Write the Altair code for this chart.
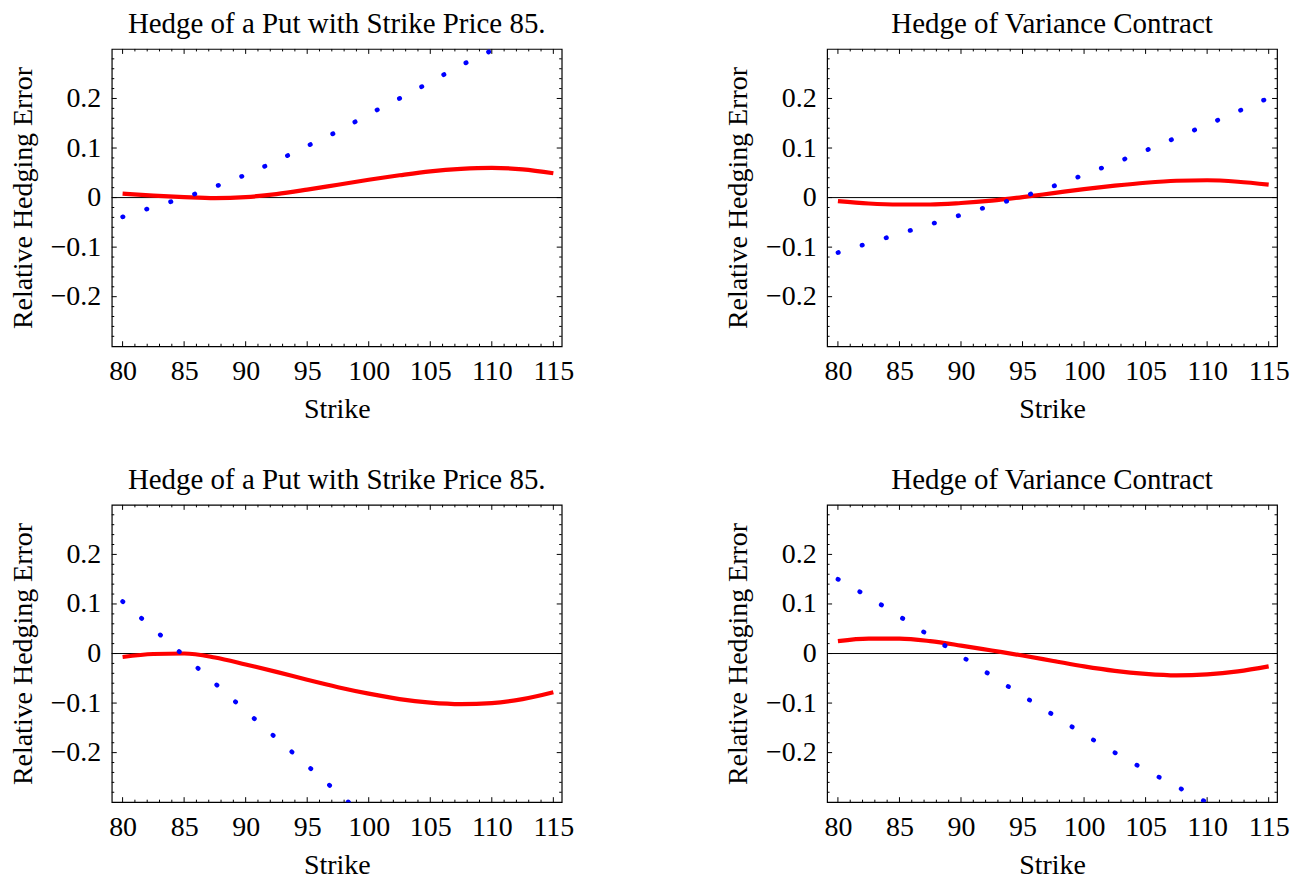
import altair as alt
import pandas as pd

STRIKE = [80, 82.5, 85, 87.5, 90, 92.5, 95, 97.5, 100, 102.5, 105, 107.5, 110, 112.5, 115]

# Panel 1: Hedge of a Put (top-left)
P1_RED = [0.008, 0.004, 0.001, -0.001, 0.001, 0.007, 0.016, 0.026, 0.036, 0.045, 0.053, 0.058, 0.060, 0.057, 0.049]
P1_BLUE = [-0.039, -0.019, 0.000, 0.022, 0.046, 0.074, 0.104, 0.134, 0.168, 0.200, 0.233, 0.267, 0.297, 0.330, 0.362]
# Panel 2: Hedge of Variance Contract (top-right)
P2_RED = [-0.007, -0.012, -0.014, -0.014, -0.011, -0.006, 0.001, 0.009, 0.017, 0.024, 0.030, 0.034, 0.035, 0.032, 0.026]
P2_BLUE = [-0.111, -0.092, -0.073, -0.054, -0.035, -0.016, 0.002, 0.023, 0.046, 0.070, 0.095, 0.121, 0.147, 0.174, 0.201]
# Panel 3: Hedge of a Put (bottom-left)
P3_RED = [-0.007, -0.001, 0.000, -0.008, -0.022, -0.037, -0.053, -0.068, -0.081, -0.092, -0.099, -0.102, -0.100, -0.092, -0.078]
P3_BLUE = [0.105, 0.050, -0.005, -0.060, -0.116, -0.171, -0.226, -0.281, -0.336, -0.391, -0.446, -0.501, -0.556, -0.611, -0.666]
# Panel 4: Hedge of Variance Contract (bottom-right)
P4_RED = [0.025, 0.030, 0.030, 0.025, 0.016, 0.006, -0.004, -0.015, -0.026, -0.035, -0.041, -0.044, -0.042, -0.036, -0.026]
P4_BLUE = [0.150, 0.114, 0.075, 0.035, -0.005, -0.045, -0.085, -0.124, -0.163, -0.200, -0.235, -0.268, -0.301, -0.335, -0.370]

TITLES = ["Hedge of a Put with Strike Price 85.", "Hedge of  Variance Contract",
          "Hedge of a Put with Strike Price 85.", "Hedge of  Variance Contract"]
X_TITLE = "Strike"
Y_TITLE = "Relative Hedging Error"

X_LABELS = [80, 85, 90, 95, 100, 105, 110, 115]
X_MINOR = list(range(80, 116))
Y_LABELS = [-0.2, -0.1, 0.0, 0.1, 0.2]
Y_MAJOR = [-0.2, -0.1, 0.0, 0.1, 0.2]
Y_MINOR = [round(-0.28 + 0.02 * i, 2) for i in range(29)]

W, H = 451, 298
XDOM = [79.12, 115.68]
YDOM = [-0.3, 0.3]
FONT = "Liberation Serif"
MAJ, MIN = 5, 2.5


def panel(title, red, blue):
    xs = alt.Scale(domain=XDOM, nice=False, zero=False)
    ys = alt.Scale(domain=YDOM, nice=False, zero=False)
    xax = alt.Axis(values=X_LABELS, format="d", title=X_TITLE, ticks=False, tickSize=0,
                   domain=False, grid=False, labelPadding=11, titlePadding=10)
    yax = alt.Axis(values=Y_LABELS, title=Y_TITLE, ticks=False, tickSize=0, domain=False,
                   grid=False, labelPadding=11, titlePadding=13,
                   labelExpr="datum.value == 0 ? '0' : replace(format(datum.value, '.1f'), '-', '\u2212')")

    df = pd.DataFrame({"strike": STRIKE, "red": red, "blue": blue})
    X = alt.X("strike:Q", scale=xs, axis=xax)

    zero = alt.Chart(pd.DataFrame({"v": [0.0]})).mark_rule(color="black", strokeWidth=1).encode(
        y=alt.Y("v:Q", scale=ys, axis=yax))
    red_line = alt.Chart(df).mark_line(color="#ff0000", strokeWidth=4.2, interpolate="monotone",
                                       clip=True).encode(x=X, y=alt.Y("red:Q", scale=ys, axis=yax))
    blue_line = alt.Chart(df).mark_line(color="#0000ff", strokeWidth=4.6, strokeDash=[0.5, 24.7],
                                        strokeCap="round", interpolate="monotone", clip=True).encode(
        x=X, y=alt.Y("blue:Q", scale=ys, axis=yax))

    layers = [zero, red_line, blue_line]
    xmaj = pd.DataFrame({"v": X_LABELS})
    xmin = pd.DataFrame({"v": [v for v in X_MINOR if v not in X_LABELS]})
    ymaj = pd.DataFrame({"v": Y_MAJOR})
    ymin = pd.DataFrame({"v": [v for v in Y_MINOR if v not in Y_MAJOR]})
    for d, ln in ((xmaj, MAJ), (xmin, MIN)):
        xt = alt.X("v:Q", scale=xs, axis=xax)
        layers.append(alt.Chart(d).mark_rule(color="black", strokeWidth=1).encode(
            x=xt, y=alt.value(H), y2=alt.value(H - ln)))
        layers.append(alt.Chart(d).mark_rule(color="black", strokeWidth=1).encode(
            x=xt, y=alt.value(0), y2=alt.value(ln)))
    for d, ln in ((ymaj, MAJ), (ymin, MIN)):
        yt = alt.Y("v:Q", scale=ys, axis=yax)
        layers.append(alt.Chart(d).mark_rule(color="black", strokeWidth=1).encode(
            y=yt, x=alt.value(0), x2=alt.value(ln)))
        layers.append(alt.Chart(d).mark_rule(color="black", strokeWidth=1).encode(
            y=yt, x=alt.value(W), x2=alt.value(W - ln)))

    return alt.layer(*layers).properties(
        width=W, height=H,
        title=alt.TitleParams(title, font=FONT, fontSize=29, fontWeight="normal", color="black",
                              offset=9, anchor="middle"))


p1 = panel(TITLES[0], P1_RED, P1_BLUE)
p2 = panel(TITLES[1], P2_RED, P2_BLUE)
p3 = panel(TITLES[2], P3_RED, P3_BLUE)
p4 = panel(TITLES[3], P4_RED, P4_BLUE)

chart = alt.concat(p1, p2, p3, p4, columns=2, spacing={"row": 159, "column": 266},
                   bounds="flush").properties(
    padding={"left": 0, "top": 0, "right": 5, "bottom": 5}, background="white"
).configure_view(stroke="black", strokeWidth=1.2).configure_axis(
    labelFont=FONT, labelFontSize=28, labelColor="black",
    titleFont=FONT, titleFontSize=28, titleFontWeight="normal", titleColor="black"
)

chart.save("out.html", embed_options={"renderer": "svg", "actions": False})
